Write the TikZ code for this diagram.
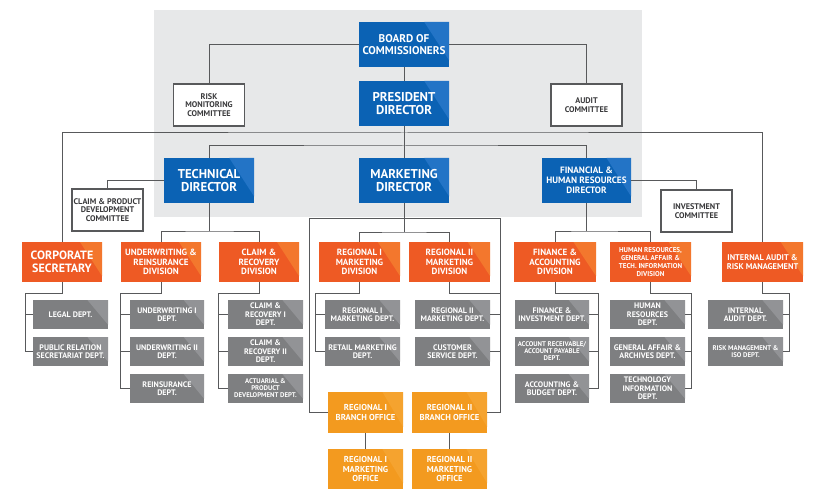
\documentclass[tikz,border=0pt]{standalone}
\usepackage{fontspec}
\setmainfont{PT Sans}[BoldFont={PT Sans Bold}]
\usetikzlibrary{calc}
\definecolor{cbg}{HTML}{E7E8E9}
\definecolor{cblue}{HTML}{0B62B4}
\definecolor{cbluehl}{HTML}{2374C6}
\definecolor{corange}{HTML}{EE5A24}
\definecolor{corangehl}{HTML}{F3772D}
\definecolor{cgray}{HTML}{7E7F81}
\definecolor{cgrayhl}{HTML}{929396}
\definecolor{cbranch}{HTML}{F39A1F}
\definecolor{cbranchhl}{HTML}{F5A32F}
\definecolor{cline}{HTML}{58595B}
\definecolor{ctext}{HTML}{3A3A3C}
\tikzset{
  hl/.style={path picture={\fill[#1] ($(path picture bounding box.north)!0.45!(path picture bounding box.north east)$) -- (path picture bounding box.north east) -- ($(path picture bounding box.north east)!0.85!(path picture bounding box.south east)$) -- cycle;}},
  basebox/.style={inner sep=0pt, align=center, text=white},
  blue/.style={basebox, fill=cblue, hl=cbluehl, minimum width=90pt, minimum height=45pt, font=\bfseries\fontsize{12.8}{13.6}\selectfont},
  bluesm/.style={blue, font=\bfseries\fontsize{11.2}{12.2}\selectfont},
  bluexs/.style={blue, font=\bfseries\fontsize{9.2}{10.2}\selectfont},
  comm/.style={inner sep=0pt, align=center, fill=white, draw=cline, line width=1.1pt, text=ctext, minimum width=71pt, minimum height=42pt, font=\bfseries\fontsize{8.2}{8.6}\selectfont},
  orng/.style={basebox, fill=corange, hl=corangehl, minimum width=80pt, minimum height=40pt, font=\bfseries\fontsize{9}{9.6}\selectfont},
  orngbig/.style={orng, font=\bfseries\fontsize{12}{12.8}\selectfont},
  orngmd/.style={orng, font=\bfseries\fontsize{8.3}{9.4}\selectfont},
  orngsm/.style={orng, font=\bfseries\fontsize{7}{8.3}\selectfont},
  dept/.style={basebox, fill=cgray, hl=cgrayhl, minimum width=75pt, minimum height=29pt, font=\bfseries\fontsize{8}{8.5}\selectfont},
  deptsm/.style={dept, font=\bfseries\fontsize{6.8}{7}\selectfont},
  brn/.style={basebox, fill=cbranch, hl=cbranchhl, minimum width=75pt, minimum height=41pt, font=\bfseries\fontsize{8.6}{9.4}\selectfont},
  conn/.style={draw=cline, line width=1pt},
}
\begin{document}
\begin{tikzpicture}[x=1pt, y=-1pt]
\useasboundingbox (0,0) rectangle (825,500);
\fill[white] (0,0) rectangle (825,500);
\fill[cbg] (154,10) rectangle (642,217);

\coordinate (topbar) at (404,133);
\coordinate (dirbar) at (404,146);
\coordinate (tbar) at (209,231);
\coordinate (mbar) at (404,232);
\coordinate (mktL) at (309,218);
\coordinate (mktR) at (500,218);
\coordinate (fbar) at (586.5,231);

% top level nodes
\node[bluesm] (board) at (404,44.5) {BOARD OF\\COMMISSIONERS};
\node[blue] (pres) at (404,103.5) {PRESIDENT\\DIRECTOR};
\node[comm] (risk) at (209,105) {RISK\\MONITORING\\COMMITTEE};
\node[comm] (audit) at (586.5,105) {AUDIT\\COMMITTEE};
\node[blue] (tech) at (209,180.5) {TECHNICAL\\DIRECTOR};
\node[blue] (mkt) at (404,180.5) {MARKETING\\DIRECTOR};
\node[bluexs, minimum width=89pt] (fin) at (586.5,180.5) {FINANCIAL \&\\HUMAN RESOURCES\\DIRECTOR};
\node[comm] (cpdc) at (107.5,210) {CLAIM \& PRODUCT\\DEVELOPMENT\\COMMITTEE};
\node[comm] (inv) at (696.5,211) {INVESTMENT\\COMMITTEE};

% divisions
\node[orngbig] (corp) at (62,262) {CORPORATE\\SECRETARY};
\node[orng] (uw) at (161,262) {UNDERWRITING \&\\REINSURANCE\\DIVISION};
\node[orng] (cr) at (259,262) {CLAIM \&\\RECOVERY\\DIVISION};
\node[orng, minimum width=81pt] (r1) at (359.5,262) {REGIONAL I\\MARKETING\\DIVISION};
\node[orng, minimum width=81pt] (r2) at (449.5,262) {REGIONAL II\\MARKETING\\DIVISION};
\node[orng, minimum width=82pt] (fa) at (555,262) {FINANCE \&\\ACCOUNTING\\DIVISION};
\node[orngsm, minimum width=81pt] (hr) at (650.5,262) {HUMAN RESOURCES,\\GENERAL AFFAIR \&\\TECH. INFORMATION\\DIVISION};
\node[orngmd, minimum width=81pt] (ia) at (762.5,262) {INTERNAL AUDIT \&\\RISK MANAGEMENT};

% departments
\node[dept] (cd1) at (70.5,314.5) {LEGAL DEPT.};
\node[dept] (cd2) at (70.5,351.5) {PUBLIC RELATION\\SECRETARIAT DEPT.};
\node[dept, minimum width=74pt] (ud1) at (167,314.5) {UNDERWRITING I\\DEPT.};
\node[dept, minimum width=74pt] (ud2) at (167,351.5) {UNDERWRITING II\\DEPT.};
\node[dept, minimum width=74pt] (ud3) at (167,388.5) {REINSURANCE\\DEPT.};
\node[dept] (crd1) at (265.5,314.5) {CLAIM \&\\RECOVERY I\\DEPT.};
\node[dept] (crd2) at (265.5,351.5) {CLAIM \&\\RECOVERY II\\DEPT.};
\node[deptsm] (crd3) at (265.5,388.5) {ACTUARIAL \&\\PRODUCT\\DEVELOPMENT DEPT.};
\node[dept] (rd1) at (362.5,314.5) {REGIONAL I\\MARKETING DEPT.};
\node[dept] (rd2) at (362.5,351.5) {RETAIL MARKETING\\DEPT.};
\node[dept] (sd1) at (452.5,314.5) {REGIONAL II\\MARKETING DEPT.};
\node[dept] (sd2) at (452.5,351.5) {CUSTOMER\\SERVICE DEPT.};
\node[dept, minimum width=74pt] (fd1) at (552,314.5) {FINANCE \&\\INVESTMENT DEPT.};
\node[deptsm, minimum width=74pt] (fd2) at (552,351.5) {ACCOUNT RECEIVABLE/\\ACCOUNT PAYABLE\\DEPT.};
\node[dept, minimum width=74pt] (fd3) at (552,388.5) {ACCOUNTING \&\\BUDGET DEPT.};
\node[dept] (hd1) at (647.5,314.5) {HUMAN\\RESOURCES\\DEPT.};
\node[dept] (hd2) at (647.5,351.5) {GENERAL AFFAIR \&\\ARCHIVES DEPT.};
\node[dept] (hd3) at (647.5,388.5) {TECHNOLOGY\\INFORMATION\\DEPT.};
\node[dept] (id1) at (745.5,314.5) {INTERNAL\\AUDIT DEPT.};
\node[deptsm] (id2) at (745.5,351.5) {RISK MANAGEMENT \&\\ISO DEPT.};

% branch offices
\node[brn] (b1) at (365.5,412.5) {REGIONAL I\\BRANCH OFFICE};
\node[brn] (b2) at (449.5,412.5) {REGIONAL II\\BRANCH OFFICE};
\node[brn, minimum height=40pt] (mo1) at (365.5,469) {REGIONAL I\\MARKETING\\OFFICE};
\node[brn, minimum height=40pt] (mo2) at (449.5,469) {REGIONAL II\\MARKETING\\OFFICE};

% connectors
\draw[conn] (board.west) -| (risk.north);
\draw[conn] (board.east) -| (audit.north);
\draw[conn] (board.south) -- (pres.north);
\draw[conn] (pres.south) -- (mkt.north);
\draw[conn] (corp.north) |- (topbar) -| (ia.north);
\draw[conn] (tech.north) |- (dirbar) -| (fin.north);
\draw[conn] (tech.west) -| (cpdc.north);
\draw[conn] (fin.east) -| (inv.north);
\draw[conn] (tech.south) -- (tbar);
\draw[conn] (uw.north) |- (tbar) -| (cr.north);
\draw[conn] (mkt.south) -- (mbar);
\draw[conn] (r1.north) |- (mbar) -| (r2.north);
\draw[conn] (b1.west) -| (mktL) -- (mktR) |- (b2.east);
\draw[conn] (fin.south) -- (fbar);
\draw[conn] (fa.north) |- (fbar) -| (hr.north);
\draw[conn] (b1.south) -- (mo1.north);
\draw[conn] (b2.south) -- (mo2.north);
% corporate secretary
\draw[conn] (corp.south) -- ++(0,11) -| ($(cd2.west)+(-7,0)$) -- (cd2.west);
\draw[conn] (cd1.west) -- ++(-7,0);
% underwriting
\draw[conn] (uw.south) -- ++(0,11) -| ($(ud3.west)+(-9,0)$) -- (ud3.west);
\draw[conn] (ud1.west) -- ++(-9,0);
\draw[conn] (ud2.west) -- ++(-9,0);
% claim & recovery
\draw[conn] (cr.south) -- ++(0,11) -| ($(crd3.west)+(-9,0)$) -- (crd3.west);
\draw[conn] (crd1.west) -- ++(-9,0);
\draw[conn] (crd2.west) -- ++(-9,0);
% regional I
\draw[conn] (r1.south) -- ++(0,11) -| ($(rd2.west)+(-9,0)$) -- (rd2.west);
\draw[conn] (rd1.west) -- ++(-9,0);
% regional II
\draw[conn] (r2.south) -- ++(0,11) -| ($(sd2.east)+(10,0)$) -- (sd2.east);
\draw[conn] (sd1.east) -- ++(10,0);
% finance
\draw[conn] (fa.south) -- ++(0,11) -| ($(fd3.east)+(9,0)$) -- (fd3.east);
\draw[conn] (fd1.east) -- ++(9,0);
\draw[conn] (fd2.east) -- ++(9,0);
% HR
\draw[conn] (hr.south) -- ++(0,11) -| ($(hd3.east)+(6,0)$) -- (hd3.east);
\draw[conn] (hd1.east) -- ++(6,0);
\draw[conn] (hd2.east) -- ++(6,0);
% internal audit
\draw[conn] (ia.south) -- ++(0,11) -| ($(id2.east)+(6,0)$) -- (id2.east);
\draw[conn] (id1.east) -- ++(6,0);
\end{tikzpicture}
\end{document}
